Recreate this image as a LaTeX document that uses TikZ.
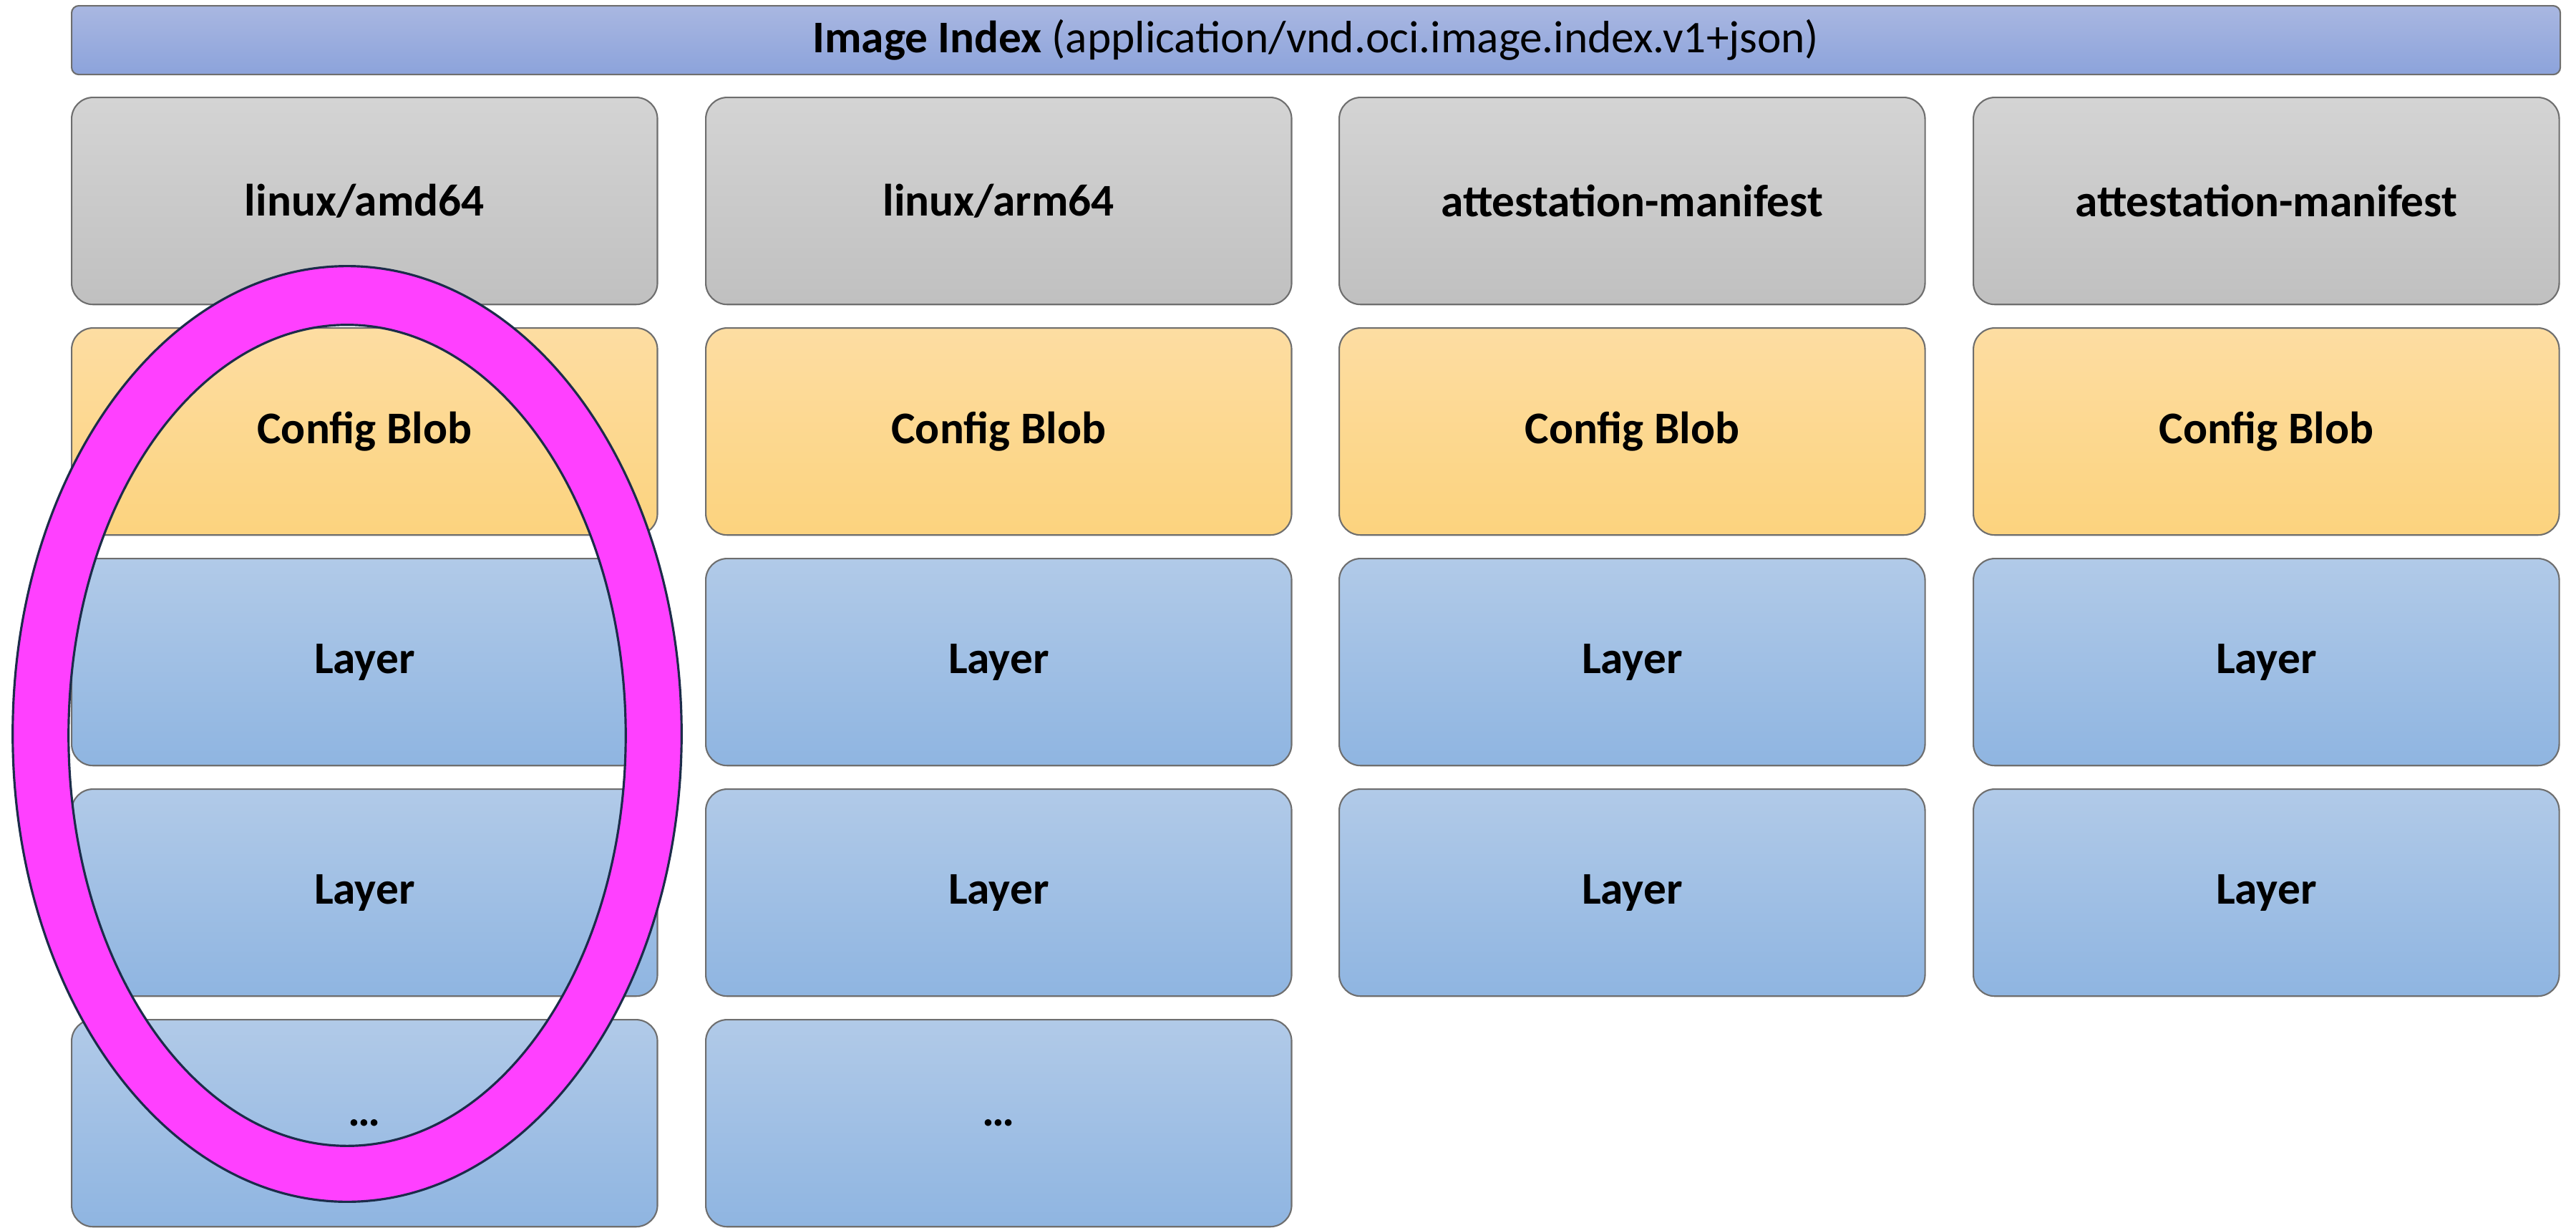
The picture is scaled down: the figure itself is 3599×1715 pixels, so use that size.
\documentclass[tikz,border=0pt]{standalone}
\usepackage{fontspec}
\setmainfont{Carlito}
\definecolor{idxTop}{HTML}{A9B7E1}
\definecolor{idxBot}{HTML}{8CA3DB}
\definecolor{manTop}{HTML}{D4D4D4}
\definecolor{manBot}{HTML}{C0C0C0}
\definecolor{cfgTop}{HTML}{FDDDA2}
\definecolor{cfgBot}{HTML}{FCD37E}
\definecolor{layTop}{HTML}{B1CAE8}
\definecolor{layBot}{HTML}{8FB5E1}
\definecolor{edgeGray}{HTML}{6E6E6E}
\definecolor{ringFill}{HTML}{FF40FF}
\definecolor{ringEdge}{HTML}{1C2C4A}
\begin{document}
\begin{tikzpicture}[x=0.01cm, y=-0.01cm,
  box/.style={draw=edgeGray, line width=0.6pt, rounded corners=0.3cm,
    anchor=north west, inner sep=0pt, minimum width=8.18cm, minimum height=2.89cm,
    font=\fontsize{18}{21}\selectfont\bfseries, text=black},
  manifest/.style={box, top color=manTop, bottom color=manBot},
  config/.style={box, top color=cfgTop, bottom color=cfgBot},
  layer/.style={box, top color=layTop, bottom color=layBot},
  indexbar/.style={draw=edgeGray, line width=0.6pt, rounded corners=0.1cm,
    anchor=north west, inner sep=0pt, minimum width=34.75cm, minimum height=0.96cm,
    top color=idxTop, bottom color=idxBot, font=\fontsize{18}{21}\selectfont},
  ring/.style={fill=ringFill, draw=ringEdge, line width=0.9pt, even odd rule}
]
\useasboundingbox (0,0) rectangle (3599,1715);

% image index header
\node[indexbar] (index) at (99,7) {\textbf{Image Index} (application/vnd.oci.image.index.v1+json)};

% platform manifests
\node[manifest] (m1) at (99,135)   {linux/amd64};
\node[manifest] (m2) at (985,135)  {linux/arm64};
\node[manifest] (m3) at (1870,135) {attestation-manifest};
\node[manifest] (m4) at (2756,135) {attestation-manifest};

% config blobs
\node[config] (c1) at (99,457)   {Config Blob};
\node[config] (c2) at (985,457)  {Config Blob};
\node[config] (c3) at (1870,457) {Config Blob};
\node[config] (c4) at (2756,457) {Config Blob};

% layers
\node[layer] (l1a) at (99,779)   {Layer};
\node[layer] (l2a) at (985,779)  {Layer};
\node[layer] (l3a) at (1870,779) {Layer};
\node[layer] (l4a) at (2756,779) {Layer};

\node[layer] (l1b) at (99,1101)   {Layer};
\node[layer] (l2b) at (985,1101)  {Layer};
\node[layer] (l3b) at (1870,1101) {Layer};
\node[layer] (l4b) at (2756,1101) {Layer};

\node[layer] (l1c) at (99,1423)  {…};
\node[layer] (l2c) at (985,1423) {…};

% highlight ring around the linux/amd64 image
\path[ring] (485,1025) ellipse [x radius=4.67cm, y radius=6.53cm]
            (485,1027) ellipse [x radius=3.89cm, y radius=5.73cm];
\end{tikzpicture}
\end{document}
